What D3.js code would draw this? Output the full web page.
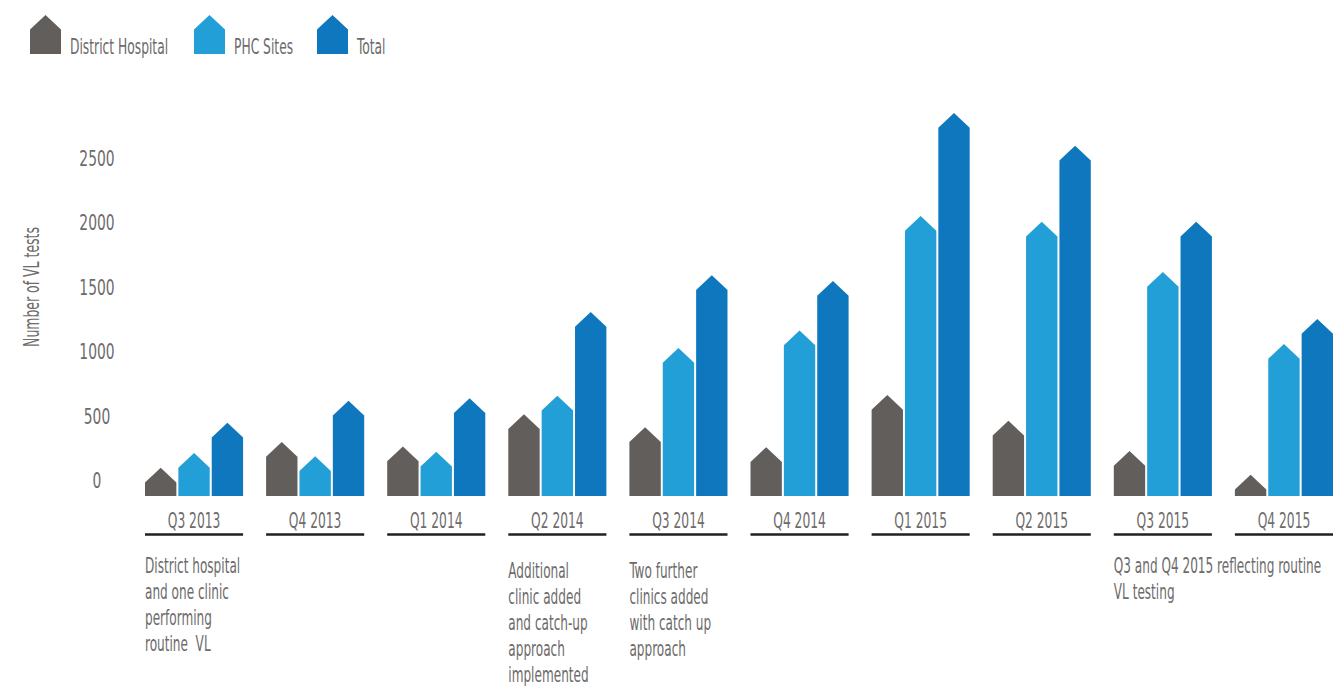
<!DOCTYPE html>
<html>
<head>
<meta charset="utf-8">
<script src="https://cdn.jsdelivr.net/npm/d3@7"></script>
<style>
	body { margin: 0; background: #fff; }
	text { font-family: "Liberation Sans Narrow", "DejaVu Sans Condensed", "Roboto", sans-serif; fill: #6d6b6b; }
</style>
</head>
<body>
<svg id="chart" width="1337" height="687"></svg>
<script>

var quarters = [ "Q3 2013", "Q4 2013", "Q1 2014", "Q2 2014", "Q3 2014", "Q4 2014", "Q1 2015", "Q2 2015", "Q3 2015", "Q4 2015" ];
var seriesNames = [ "District Hospital", "PHC Sites", "Total" ];
var districtHospital = [ 95, 295, 260, 510, 410, 255, 660, 460, 225, 40 ];
var phcSites = [ 210, 185, 220, 655, 1025, 1160, 2050, 2005, 1615, 1055 ];
var total = [ 445, 615, 635, 1305, 1590, 1545, 2850, 2595, 2005, 1250 ];
var yTicks = [ 0, 500, 1000, 1500, 2000, 2500 ];
var yTitle = "Number of VL tests";
var notes = [
	{ quarter: "Q3 2013", lines: [ "District hospital", "and one clinic", "performing", "routine  VL" ] },
	{ quarter: "Q2 2014", lines: [ "Additional", "clinic added", "and catch-up", "approach", "implemented" ] },
	{ quarter: "Q3 2014", lines: [ "Two further", "clinics added", "with catch up", "approach" ] },
	{ quarter: "Q3 2015", lines: [ "Q3 and Q4 2015 reflecting routine", "VL testing" ] }
];

var colors = d3.scaleOrdinal()
	.domain( seriesNames )
	.range( [ "#625e5c", "#219fd6", "#0e77bd" ] );

var svg = d3.select( "#chart" );

var y = d3.scaleLinear()
	.domain( [ 0, 2500 ] )
	.range( [ 480, 158 ] );

// the bars stand on a ground line a little below the "0" label
var ground = y( 0 ) + 16;

var x = d3.scaleBand()
	.domain( quarters )
	.range( [ 145, 1333 ] )
	.paddingInner( 0.19 )
	.paddingOuter( 0 );

var xs = d3.scaleBand()
	.domain( seriesNames )
	.range( [ 0, x.bandwidth() ] )
	.paddingInner( 0.06 );

// condensed look: shrink each text's advance width
var squeeze = function( sel, k )
{
	sel.each( function() {
		var len = this.getComputedTextLength();
		d3.select( this )
			.attr( "textLength", len * k )
			.attr( "lengthAdjust", "spacingAndGlyphs" );
	} );
};

var house = function( x0, w, top, bottom )
{
	var roof = w / 2 * 0.94;
	var p = d3.path();
	p.moveTo( x0, bottom );
	p.lineTo( x0, Math.min( bottom, top + roof ) );
	p.lineTo( x0 + w / 2, top );
	p.lineTo( x0 + w, Math.min( bottom, top + roof ) );
	p.lineTo( x0 + w, bottom );
	p.closePath();
	return p.toString();
};

// Legend
//
var legend = svg.append( "g" ).attr( "class", "legend" );
var legendX = [ 30, 194, 317 ];
seriesNames.forEach( function( name, i ) {
	legend.append( "path" )
		.attr( "d", house( legendX[ i ], 31, 15, 54 ) )
		.attr( "fill", colors( name ) );
	legend.append( "text" )
		.attr( "x", legendX[ i ] + 40 )
		.attr( "y", 54 )
		.attr( "font-size", 21 )
		.text( name );
} );
squeeze( legend.selectAll( "text" ), 0.65 );

// Y axis labels
//
var yAxis = svg.append( "g" ).attr( "class", "y-axis" );
yAxis.selectAll( "text" )
	.data( yTicks )
	.enter()
	.append( "text" )
	.attr( "x", 97 )
	.attr( "y", function( d ) { return y( d ) + 8; } )
	.attr( "text-anchor", "middle" )
	.attr( "font-size", 22 )
	.text( function( d ) { return d; } );
squeeze( yAxis.selectAll( "text" ), 0.7 );

var title = svg.append( "text" )
	.attr( "transform", "translate(39,287) rotate(-90)" )
	.attr( "text-anchor", "middle" )
	.attr( "font-size", 21 )
	.text( yTitle );
squeeze( title, 0.66 );

// Bars
//
var rows = quarters.map( function( q, i ) {
	return { quarter: q, values: [ districtHospital[ i ], phcSites[ i ], total[ i ] ] };
} );

var groups = svg.append( "g" )
	.attr( "class", "bars" )
	.selectAll( "g" )
	.data( rows )
	.enter()
	.append( "g" )
	.attr( "transform", function( d ) { return "translate(" + x( d.quarter ) + ",0)"; } );

groups.selectAll( "path" )
	.data( function( row ) {
		return seriesNames.map( function( name, j ) { return { name: name, value: row.values[ j ] }; } );
	} )
	.enter()
	.append( "path" )
	.attr( "d", function( d ) { return house( xs( d.name ), xs.bandwidth(), y( d.value ), ground ); } )
	.attr( "fill", function( d ) { return colors( d.name ); } );

// Category labels and underlines
//
var cats = svg.append( "g" ).attr( "class", "x-axis" );
cats.selectAll( "text" )
	.data( quarters )
	.enter()
	.append( "text" )
	.attr( "x", function( d ) { return x( d ) + x.bandwidth() / 2; } )
	.attr( "y", 528 )
	.attr( "text-anchor", "middle" )
	.attr( "font-size", 22 )
	.text( function( d ) { return d; } );
squeeze( cats.selectAll( "text" ), 0.62 );

cats.selectAll( "line" )
	.data( quarters )
	.enter()
	.append( "line" )
	.attr( "x1", function( d ) { return x( d ); } )
	.attr( "x2", function( d ) { return x( d ) + x.bandwidth(); } )
	.attr( "y1", 534.5 )
	.attr( "y2", 534.5 )
	.attr( "stroke", "#231f20" )
	.attr( "stroke-width", 2.5 );

// Notes under the quarters, one text per line
//
var noteTop = { "Q3 2013": 573, "Q2 2014": 578, "Q3 2014": 578, "Q3 2015": 573 };
var noteLines = [];
notes.forEach( function( note ) {
	note.lines.forEach( function( line, i ) {
		noteLines.push( { quarter: note.quarter, line: line, i: i } );
	} );
} );

var noteText = svg.append( "g" )
	.attr( "class", "notes" )
	.selectAll( "text" )
	.data( noteLines )
	.enter()
	.append( "text" )
	.attr( "font-size", 21 )
	.attr( "x", function( d ) { return x( d.quarter ); } )
	.attr( "y", function( d ) { return noteTop[ d.quarter ] + d.i * 26; } )
	.style( "white-space", "pre" )
	.text( function( d ) { return d.line; } );
squeeze( noteText, 0.64 );

</script>
</body>
</html>
